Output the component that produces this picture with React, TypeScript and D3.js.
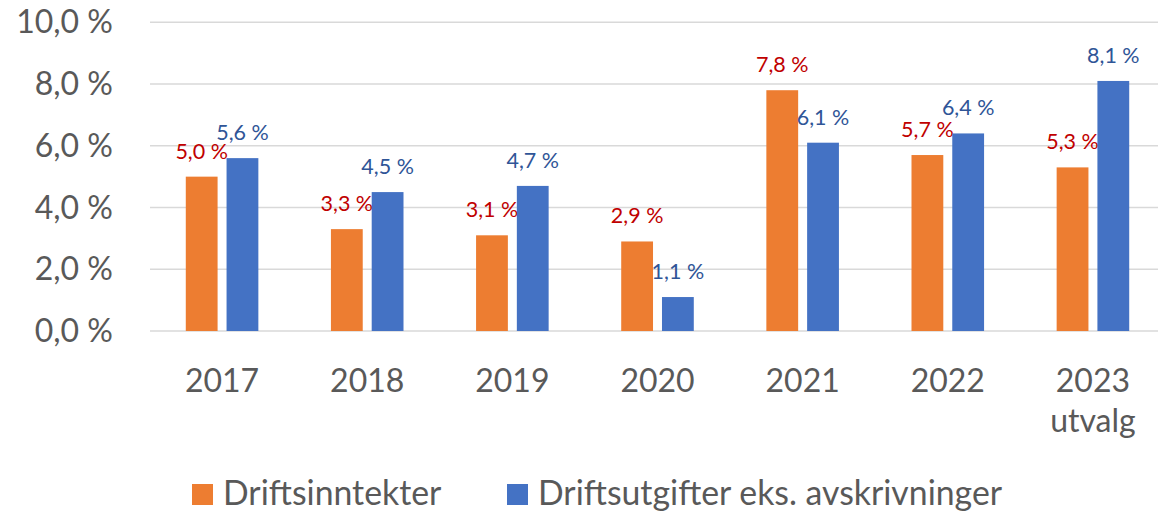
import React from "react";
import * as d3 from "d3";

const categories = ["2017", "2018", "2019", "2020", "2021", "2022", "2023"];
const categorySub = ["", "", "", "", "", "", "utvalg"];
const seriesNames = ["Driftsinntekter", "Driftsutgifter eks. avskrivninger"];
const inntekter = [5.0, 3.3, 3.1, 2.9, 7.8, 5.7, 5.3];
const utgifter = [5.6, 4.5, 4.7, 1.1, 6.1, 6.4, 8.1];
const yTicks = [0, 2, 4, 6, 8, 10];

const barColors = ["#ED7D31", "#4472C4"];
const labelColors = ["#C00000", "#2F5597"];
const FONT = "Lato, 'Open Sans', sans-serif";
const fmt = (v: number) => v.toFixed(1).replace(".", ",") + " %";

export default function App() {
  const W = 1158, H = 512;
  const y = d3.scaleLinear().domain([0, 10]).range([331, 22.3]);
  const x0 = d3.scaleBand<string>().domain(categories).range([149.5, 1165.5]).paddingInner(0.5).paddingOuter(0.25);
  const x1 = d3.scaleBand<number>().domain([0, 1]).range([0, x0.bandwidth()]).paddingInner(0.22);
  const series = [inntekter, utgifter];
  const gridX0 = 150, gridX1 = 1158;

  return (
    <svg width={W} height={H} style={{ position: "absolute", left: 0, top: 0, background: "#fff" }}>
      {yTicks.map((t) => (
        <g key={t}>
          <line x1={gridX0} x2={gridX1} y1={y(t)} y2={y(t)} stroke="#D9D9D9" strokeWidth={1.5} />
          <text x={113} y={y(t) + 11} textAnchor="end" fontFamily={FONT} fontSize={32} fill="#595959">
            {fmt(t)}
          </text>
        </g>
      ))}
      {categories.map((c, i) => (
        <g key={c}>
          {series.map((s, k) => {
            const bx = (x0(c) as number) + (x1(k) as number);
            const bw = x1.bandwidth();
            return (
              <g key={k}>
                <rect x={bx} y={y(s[i])} width={bw} height={y(0) - y(s[i])} fill={barColors[k]} />
                <text x={bx + bw / 2} y={y(s[i]) - 18} textAnchor="middle" fontFamily={FONT} fontSize={21.5} fill={labelColors[k]}>
                  {fmt(s[i])}
                </text>
              </g>
            );
          })}
          <text x={(x0(c) as number) + x0.bandwidth() / 2} y={392} textAnchor="middle" fontFamily={FONT} fontSize={32} fill="#595959">
            {c}
          </text>
          {categorySub[i] && (
            <text x={(x0(c) as number) + x0.bandwidth() / 2} y={432} textAnchor="middle" fontFamily={FONT} fontSize={32} fill="#595959">
              {categorySub[i]}
            </text>
          )}
        </g>
      ))}
      {seriesNames.map((n, k) => {
        const lx = [192, 507][k];
        return (
          <g key={n}>
            <rect x={lx} y={484} width={21} height={21} fill={barColors[k]} />
            <text x={lx + 31} y={505} fontFamily={FONT} fontSize={33.8} fill="#595959">
              {n}
            </text>
          </g>
        );
      })}
    </svg>
  );
}
